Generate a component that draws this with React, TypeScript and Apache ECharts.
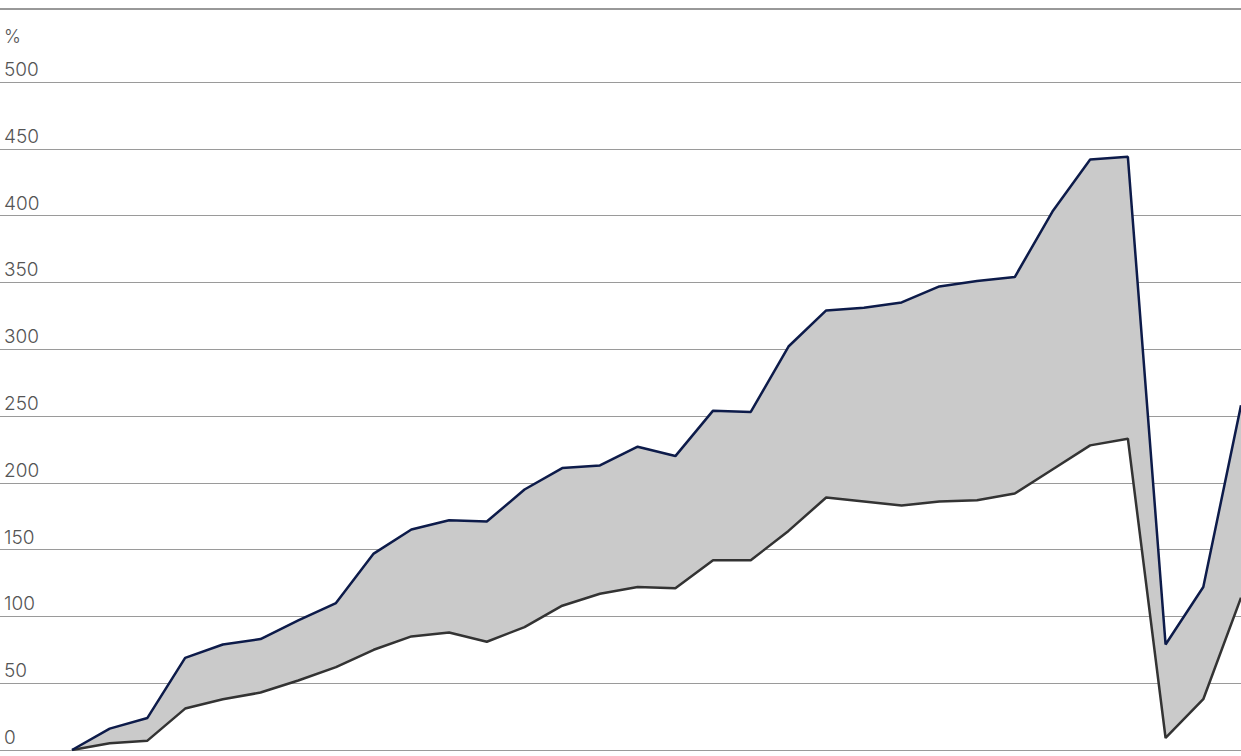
import React, { useEffect, useRef } from 'react';
import * as echarts from 'echarts';

const periods = Array.from({ length: 32 }, (_, i) => String(i));
const upperValues = [0, 16, 24, 69, 79, 83, 97, 110, 147, 165, 172, 171, 195, 211, 213, 227, 220, 254, 253, 302, 329, 331, 335, 347, 351, 354, 403, 442, 444, 79, 122, 258];
const lowerValues = [0, 5, 7, 31, 38, 43, 52, 62, 75, 85, 88, 81, 92, 108, 117, 122, 121, 142, 142, 164, 189, 186, 183, 186, 187, 192, 210, 228, 233, 9, 38, 114];
const yTicks = { min: 0, max: 500, interval: 50 };

export default function App() {
    const chartRef = useRef<HTMLDivElement | null>(null);

    useEffect(() => {
        document.body.style.margin = '0';
        if (!chartRef.current) return;
        const chart = echarts.init(chartRef.current, null, { renderer: 'svg' });
        const diff = upperValues.map((v, i) => v - lowerValues[i]);
        const font = 'Inter, "Noto Sans", sans-serif';

        chart.setOption({
            animation: false,
            grid: [
                { left: 0, right: 0, top: 82, bottom: 6 }, // axis + gridlines
                { left: 72, width: 1175, top: 82, bottom: 6 }, // data
            ],
            xAxis: [
                { type: 'value', gridIndex: 0, show: false },
                { type: 'category', gridIndex: 1, data: periods, boundaryGap: false, show: false },
            ],
            yAxis: [
                {
                    type: 'value',
                    gridIndex: 0,
                    ...yTicks,
                    axisLine: { show: false },
                    axisTick: { show: false },
                    splitLine: { lineStyle: { color: '#9a9a9a', width: 1 } },
                    axisLabel: {
                        inside: true,
                        margin: 4,
                        verticalAlign: 'bottom',
                        padding: [0, 0, 3, 0],
                        color: '#555',
                        fontSize: 19,
                        fontWeight: 300,
                        fontFamily: font,
                    },
                },
                { type: 'value', gridIndex: 1, ...yTicks, show: false, splitLine: { show: false } },
            ],
            series: [
                { type: 'line', xAxisIndex: 1, yAxisIndex: 1, stack: 'band', data: lowerValues, symbol: 'none', lineStyle: { opacity: 0 }, z: 1 },
                { type: 'line', xAxisIndex: 1, yAxisIndex: 1, stack: 'band', data: diff, symbol: 'none', lineStyle: { opacity: 0 }, areaStyle: { color: '#cacaca', opacity: 1 }, z: 1 },
                { type: 'line', xAxisIndex: 1, yAxisIndex: 1, data: lowerValues, symbol: 'none', lineStyle: { color: '#333333', width: 2.5 }, z: 3 },
                { type: 'line', xAxisIndex: 1, yAxisIndex: 1, data: upperValues, symbol: 'none', lineStyle: { color: '#0d1b4a', width: 2.5 }, z: 3 },
            ],
            graphic: [
                { type: 'line', shape: { x1: 0, y1: 9, x2: 1241, y2: 9 }, style: { stroke: '#333', lineWidth: 1 } },
                { type: 'text', x: 4, y: 27, style: { text: '%', fill: '#555', fontSize: 18, fontWeight: 300, fontFamily: font } },
                { type: 'text', x: 1043, y: 381, style: { text: 'Efficiency gain', fill: '#fff', fontSize: 17, fontFamily: font, align: 'center', verticalAlign: 'middle' } },
                { type: 'text', x: 1045, y: 346, style: { text: '↑', fill: '#fff', fontSize: 30, fontFamily: 'DejaVu Sans', align: 'center', verticalAlign: 'middle' } },
                { type: 'text', x: 1045, y: 416, style: { text: '↓', fill: '#fff', fontSize: 30, fontFamily: 'DejaVu Sans', align: 'center', verticalAlign: 'middle' } },
            ],
        });

        return () => chart.dispose();
    }, []);

    return <div ref={chartRef} style={{ width: '1241px', height: '756px' }} />;
}
